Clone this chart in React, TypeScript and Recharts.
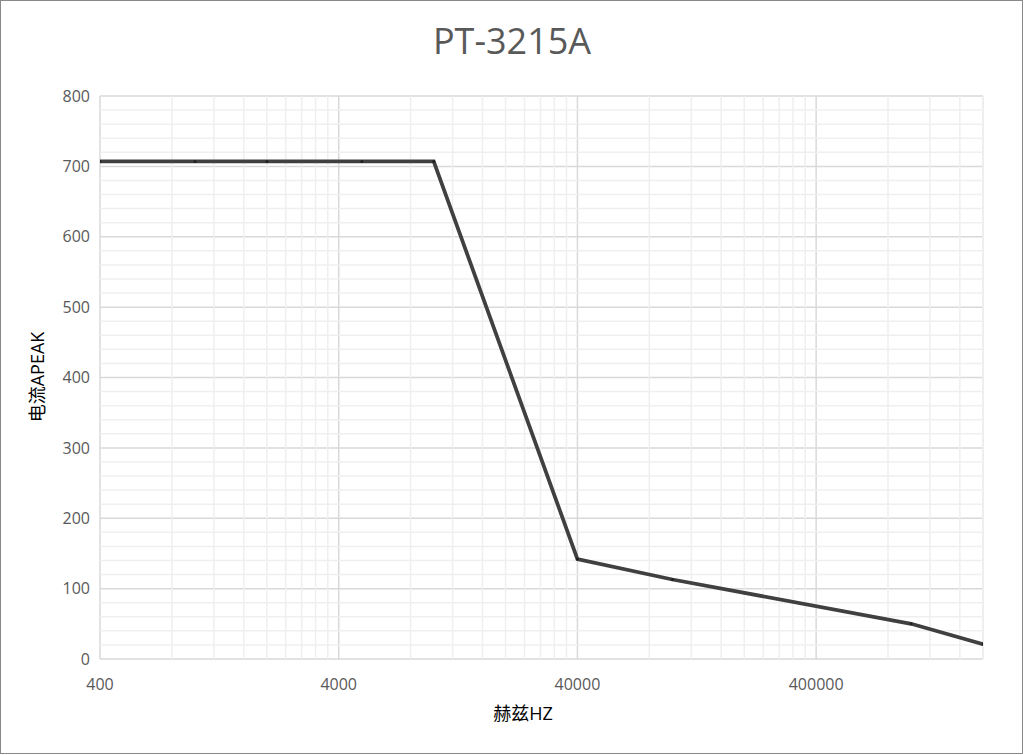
import React from 'react';
import { LineChart, Line, XAxis, YAxis, CartesianGrid, ReferenceLine } from 'recharts';

const frequencies = [400, 1000, 2000, 5000, 10000, 40000, 100000, 1000000, 2000000];
const currents = [707, 707, 707, 707, 707, 142, 113, 50, 21];
const xTicks = [400, 4000, 40000, 400000];
const yTicks = [0, 100, 200, 300, 400, 500, 600, 700, 800];
const decadeBases = [400, 4000, 40000, 400000];
const minorMultipliers = [2, 3, 4, 5, 6, 7, 8, 9];
const xMax = 2000000;

const data = frequencies.map((hz, i) => ({ hz, a: currents[i] }));

const minorX: number[] = [];
decadeBases.forEach((b) => minorMultipliers.forEach((m) => { if (b * m <= xMax) minorX.push(b * m); }));
minorX.push(xMax);
const minorY: number[] = [];
yTicks.forEach((t) => { [20, 40, 60, 80].forEach((d) => { if (t + d < 800) minorY.push(t + d); }); });

const FONT = '"Open Sans", "Noto Sans CJK SC", sans-serif';

export default function App() {
  return (
    <div style={{ position: 'absolute', left: 0, top: 0, width: 1024, height: 755, background: '#fff', fontFamily: FONT }}>
      <LineChart width={1024} height={755} data={data} margin={{ top: 96, right: 41, bottom: 56, left: 40 }}>
        {minorX.map((v) => (
          <ReferenceLine key={'mx' + v} x={v} stroke="#efefef" strokeWidth={1.5} />
        ))}
        {minorY.map((v) => (
          <ReferenceLine key={'my' + v} y={v} stroke="#efefef" strokeWidth={1.5} />
        ))}
        <CartesianGrid stroke="#d9d9d9" strokeWidth={1.5} />
        <XAxis
          dataKey="hz"
          type="number"
          scale="log"
          domain={[400, xMax]}
          ticks={xTicks}
          allowDataOverflow
          axisLine={false}
          tickLine={false}
          height={40}
          tickMargin={14}
          tick={{ fill: '#595959', fontSize: 16, fontFamily: FONT }}
        />
        <YAxis
          type="number"
          domain={[0, 800]}
          ticks={yTicks}
          axisLine={false}
          tickLine={false}
          width={60}
          tickMargin={4}
          tick={{ fill: '#595959', fontSize: 16, fontFamily: FONT }}
        />
        <Line
          type="linear"
          dataKey="a"
          stroke="#404040"
          strokeWidth={3.75}
          dot={{ r: 1.5, fill: '#1f1f1f', stroke: 'none' }}
          activeDot={false}
          isAnimationActive={false}
        />
      </LineChart>
      <div style={{ position: 'absolute', left: 0, top: 17, width: 1024, textAlign: 'center', fontSize: 36, color: '#595959', lineHeight: '48px' }}>
        PT-3215A
      </div>
      <div style={{ position: 'absolute', left: 423, top: 700, width: 200, textAlign: 'center', fontSize: 18, color: '#000', lineHeight: '26px' }}>
        赫兹HZ
      </div>
      <div style={{ position: 'absolute', left: 37 - 100, top: 377 - 13, width: 200, textAlign: 'center', fontSize: 18, color: '#000', lineHeight: '26px', transform: 'rotate(-90deg)' }}>
        电流APEAK
      </div>
      <div style={{ position: 'absolute', left: 0, top: 0, width: 1023, height: 754, boxSizing: 'border-box', border: '1.5px solid #898989', pointerEvents: 'none' }} />
    </div>
  );
}
